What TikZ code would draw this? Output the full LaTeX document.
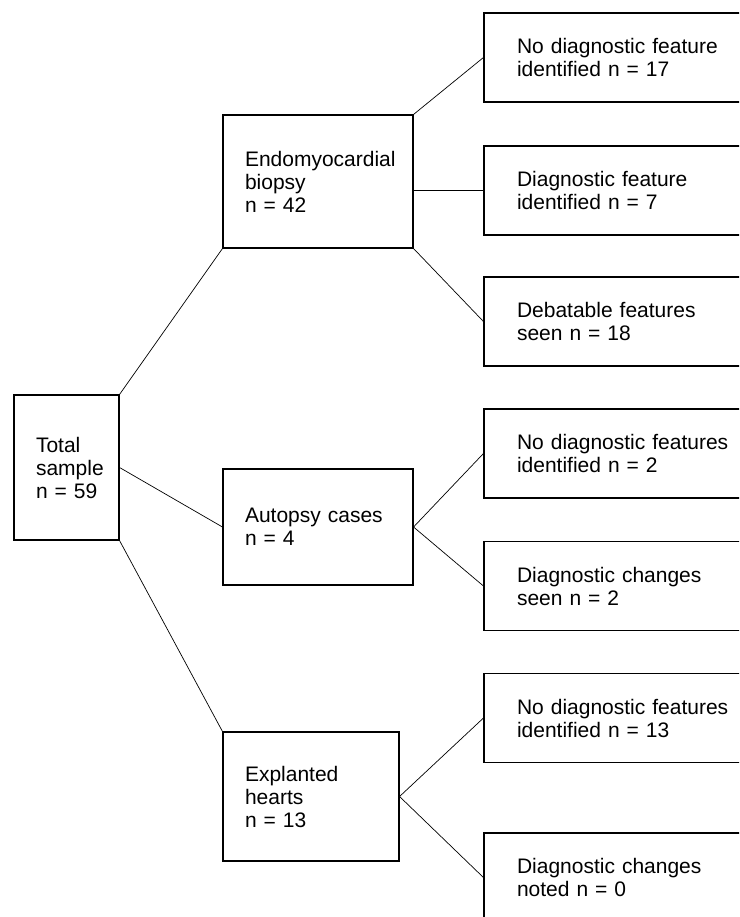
\documentclass[tikz,border=0pt]{standalone}
\usepackage{fontspec}
\setmainfont{Liberation Sans}
\newcommand{\boxfont}{\fontsize{21}{23}\selectfont\hyphenpenalty=10000}
\tikzset{
	leftbox/.style={draw, black, line width=1.1pt, inner xsep=22pt, align=left, font=\boxfont},
	rightbox/.style={leftbox, inner xsep=33pt, text width=234pt, minimum height=89pt},
	link/.style={line width=0.7pt, black}
}
\begin{document}
\begin{tikzpicture}[x=1pt,y=-1pt]
	\useasboundingbox (0,0) rectangle (739,917);
	\clip (0,0) rectangle (739,917);
	\node[leftbox, text width=61pt, minimum height=145pt] (total) at (66.5,467.5) {Total\\sample\\n~=~59};
	\node[leftbox, text width=146pt, minimum height=133pt] (endo) at (318,181.5) {Endomyocardial\\biopsy\\n~=~42};
	\node[leftbox, text width=146pt, minimum height=116pt] (autopsy) at (318,527) {Autopsy cases\\n~=~4};
	\node[leftbox, text width=132pt, minimum height=129pt] (explant) at (311,796.5) {Explanted\\hearts\\n~=~13};
	\node[rightbox] (endoA) at (634,57.5) {No diagnostic feature\\identified n~=~17};
	\node[rightbox] (endoB) at (634,190.5) {Diagnostic feature\\identified n~=~7};
	\node[rightbox] (endoC) at (634,321.5) {Debatable features\\seen n~=~18};
	\node[rightbox] (autopsyA) at (634,453.5) {No diagnostic features\\identified n~=~2};
	\node[rightbox] (autopsyB) at (634,586) {Diagnostic changes\\seen n~=~2};
	\node[rightbox] (explantA) at (634,718) {No diagnostic features\\identified n~=~13};
	\node[rightbox] (explantB) at (634,877.5) {Diagnostic changes\\noted n~=~0};
	\draw[link] (total.north east) -- (endo.south west);
	\draw[link] (total.east) -- (autopsy.west);
	\draw[link] (total.south east) -- (explant.north west);
	\draw[link] (endo.north east) -- (endoA.west);
	\draw[link] (endo.east |- endoB.west) -- (endoB.west);
	\draw[link] (endo.south east) -- (endoC.west);
	\draw[link] (autopsy.east) -- (autopsyA.west);
	\draw[link] (autopsy.east) -- (autopsyB.west);
	\draw[link] (explant.east) -- (explantA.west);
	\draw[link] (explant.east) -- (explantB.west);
\end{tikzpicture}
\end{document}
